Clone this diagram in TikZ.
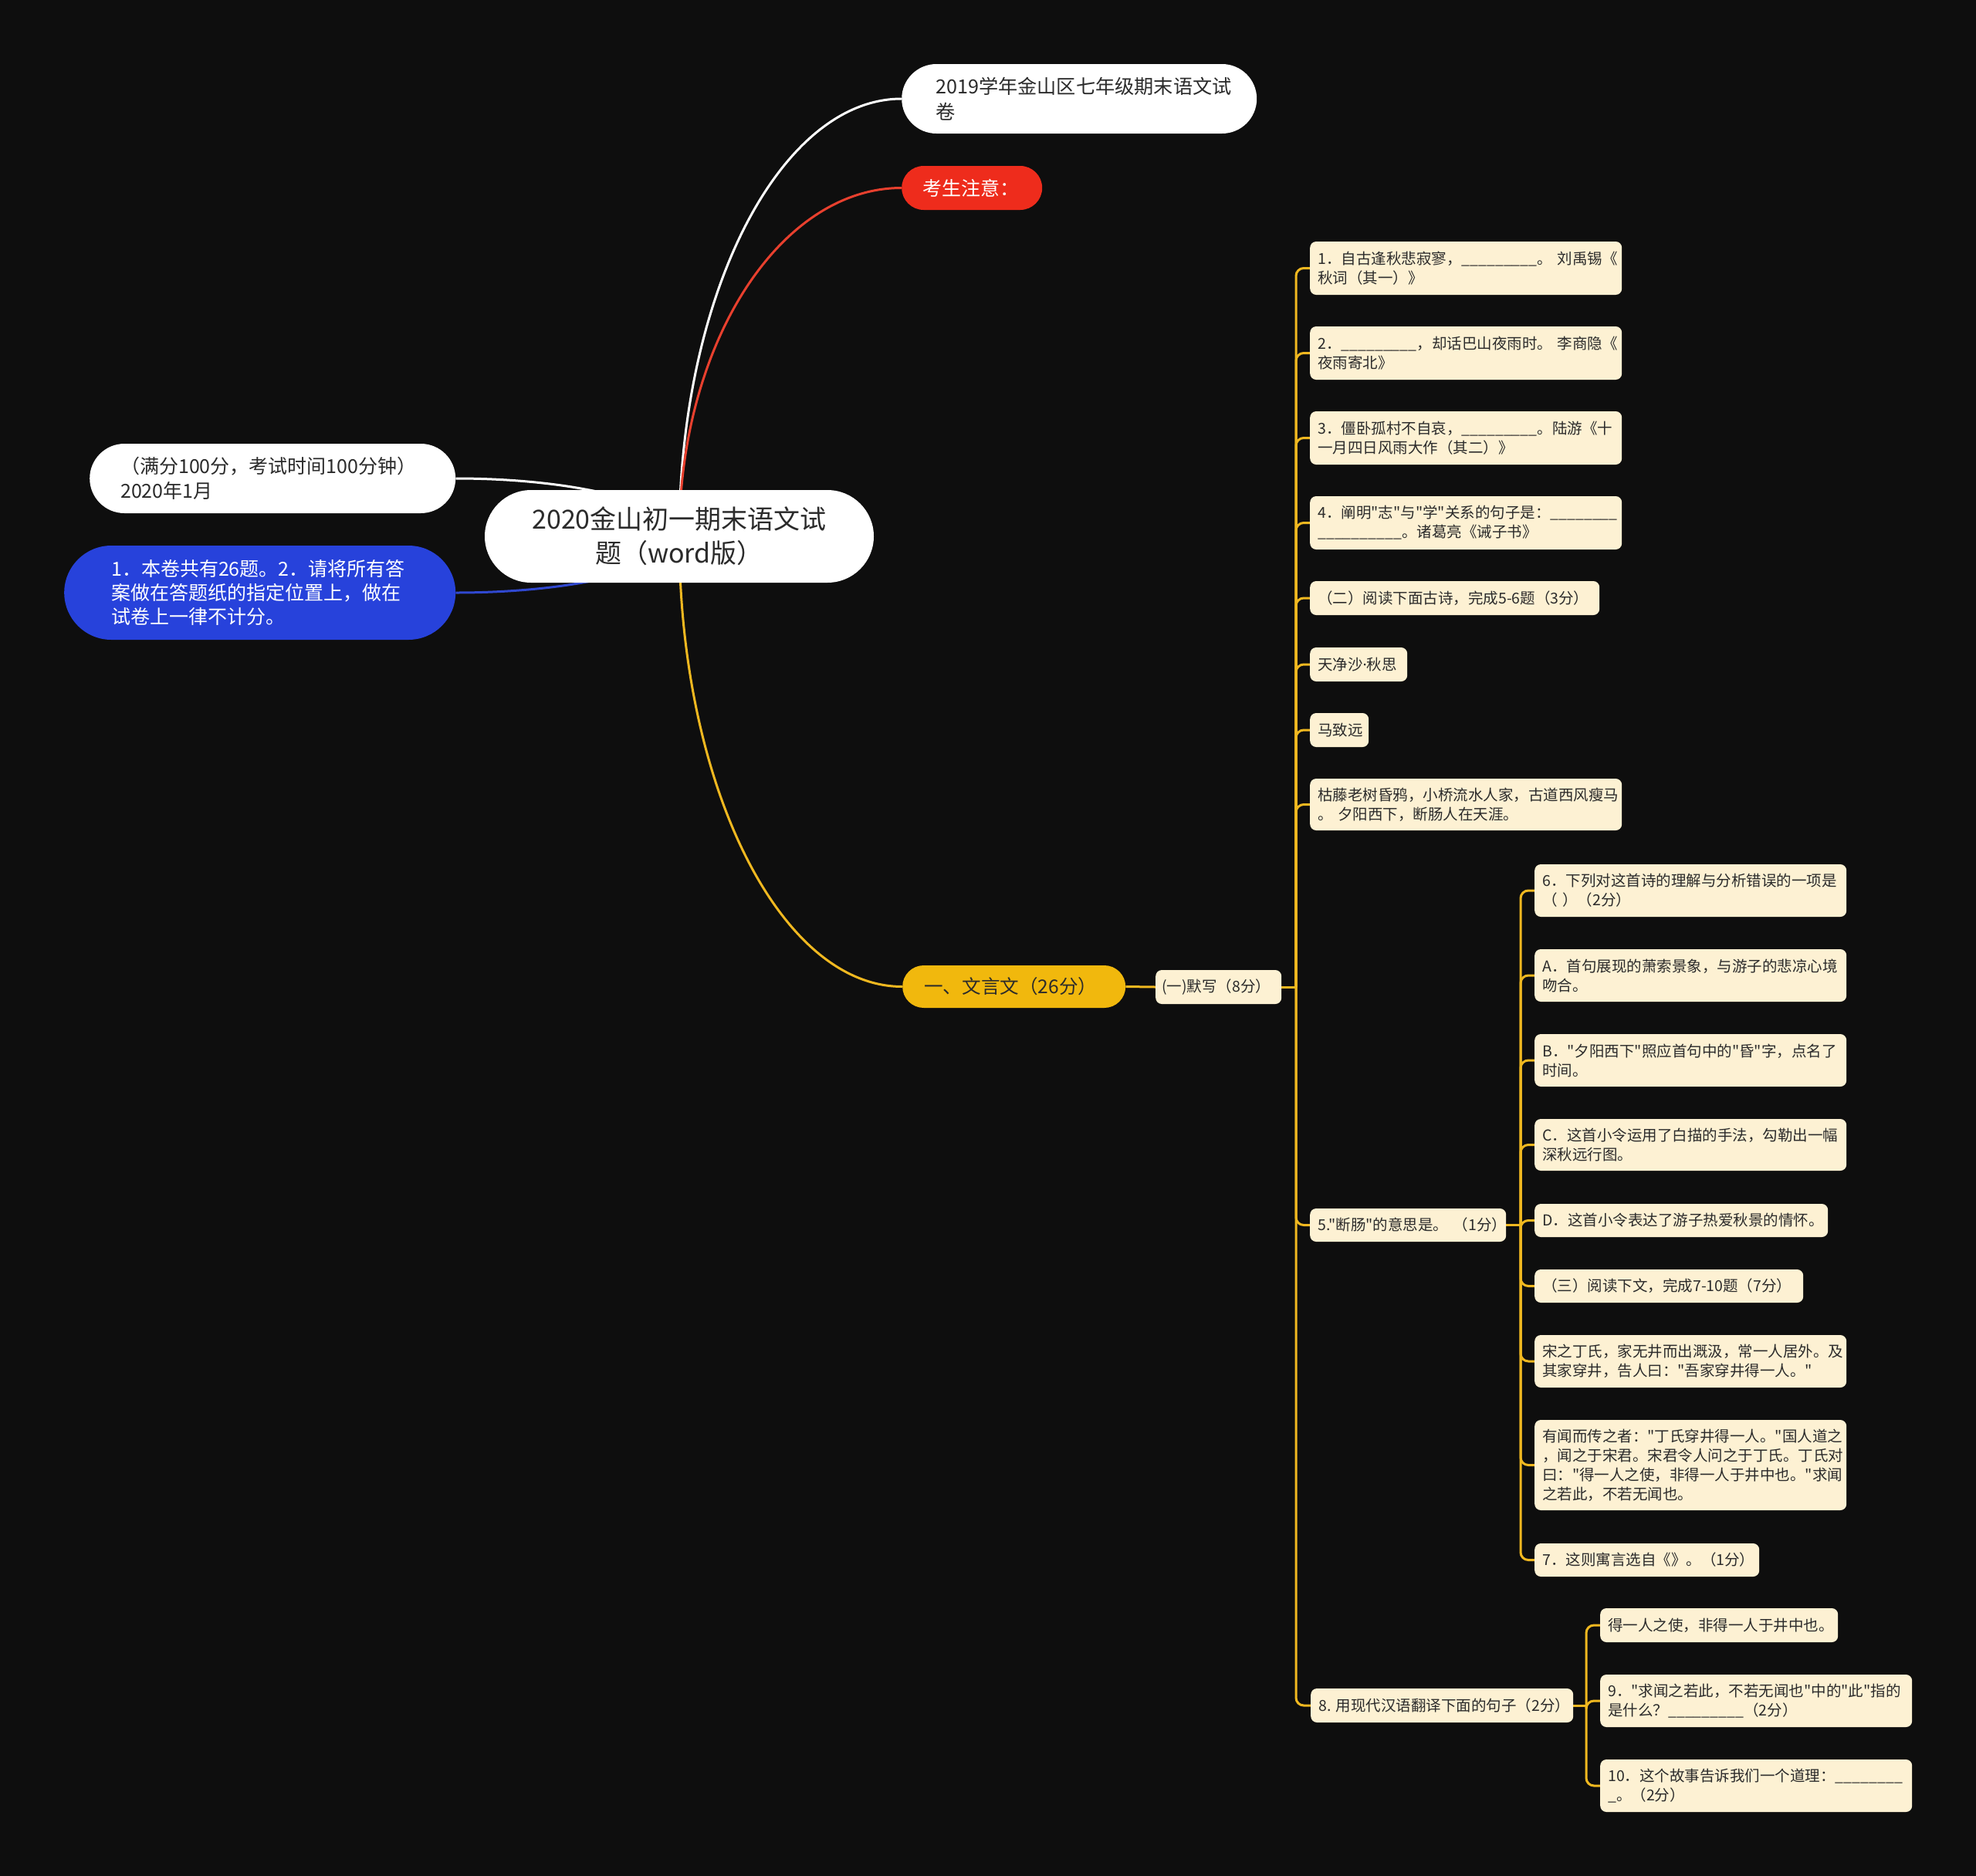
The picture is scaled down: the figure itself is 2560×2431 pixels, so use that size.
\documentclass[tikz,border=0pt]{standalone}
\usepackage{fontspec}
\setmainfont{Noto Sans CJK SC}[Ligatures=TeXOff]
\newfontfamily\latinf{Noto Sans}
\definecolor{bgc}{HTML}{0E0E0E}
\definecolor{gold}{HTML}{F0B820}
\definecolor{goldfill}{HTML}{F1B80D}
\definecolor{cream}{HTML}{FDF1D3}
\definecolor{txtdark}{HTML}{2B2B2B}
\definecolor{redn}{HTML}{EE2C1C}
\definecolor{redl}{HTML}{E8402E}
\definecolor{bluen}{HTML}{2742DB}
\definecolor{bluel}{HTML}{3048D0}
\pgfdeclarelayer{bglayer}
\pgfdeclarelayer{linelayer}
\pgfsetlayers{bglayer,linelayer,main}
\hyphenpenalty=10000
\exhyphenpenalty=10000
\begin{document}
\begin{tikzpicture}[x=1pt,y=-1pt,
  every node/.style={inner ysep=0pt},
  leaf/.style={fill=cream, text=txtdark, rounded corners=8pt, anchor=west, align=left,
    inner xsep=10pt, font=\fontsize{19.5}{25}\selectfont},
  pill/.style={anchor=west, align=left, font=\fontsize{25}{32}\selectfont},
  gline/.style={draw=gold, line width=3pt},
  gbranch/.style={draw=gold, line width=3pt, rounded corners=10pt},
  wline/.style={draw=white, line width=3pt},
  rline/.style={draw=redl, line width=3pt},
  bline/.style={draw=bluel, line width=3pt}
]
\begin{pgfonlayer}{bglayer}
\fill[bgc] (0,0) rectangle (2560,2431);
\end{pgfonlayer}
\useasboundingbox (0,0) rectangle (2560,2431);

% root
\node[fill=white, text=txtdark, rounded corners=60pt, minimum width=504pt, minimum height=120pt,
  text width=440pt, align=center, font=\fontsize{34}{44}\selectfont] (root) at (880,695)
  {2020金山初一期末语文试\\题（word版）};

% top / left nodes
\node[pill, fill=white, text=txtdark, rounded corners=45pt, minimum width=460pt, minimum height=90pt,
  text width=372pt, inner xsep=44pt, font=\fontsize{25.2}{33}\selectfont] (top1) at (1168,128)
  {2019学年金山区七年级期末语文试\\卷};
\node[pill, fill=redn, text=white, rounded corners=28.5pt, minimum width=182pt, minimum height=57pt,
  text width=128pt, inner xsep=27pt] (red1) at (1168,243.5) {考生注意：};
\node[pill, fill=white, text=txtdark, rounded corners=45pt, minimum width=474pt, minimum height=90pt,
  text width=394pt, inner xsep=40pt] (left1) at (116,620)
  {（满分100分，考试时间100分钟）\\2020年1月};
\node[pill, fill=bluen, text=white, rounded corners=61pt, minimum width=507pt, minimum height=122pt,
  text width=385pt, inner xsep=61pt, font=\fontsize{25}{31}\selectfont] (blue1) at (83,768)
  {1．本卷共有26题。2．请将所有答\\案做在答题纸的指定位置上，做在\\试卷上一律不计分。};

% level 1
\node[pill, fill=goldfill, text=txtdark, rounded corners=27.5pt, minimum width=289pt, minimum height=55pt,
  text width=233pt, inner xsep=28pt, font=\fontsize{24.6}{30}\selectfont] (wy) at (1169,1278.5)
  {一、文言文（26分）};
\node[leaf, minimum width=163pt, minimum height=44pt, text width=147pt, inner xsep=8pt] (mx) at (1497,1279)
  {(一)默写（8分）};

% level 2
\node[leaf, minimum height=69pt, text width=384pt] (a1) at (1697,347.5)
  {1．自古逢秋悲寂寥，\_\_\_\_\_\_\_\_\_。~刘禹锡《\\秋词（其一）》};
\node[leaf, minimum height=69pt, text width=384pt] (a2) at (1697,457.5)
  {2．\_\_\_\_\_\_\_\_\_，却话巴山夜雨时。~李商隐《\\夜雨寄北》};
\node[leaf, minimum height=69pt, text width=384pt] (a3) at (1697,567.5)
  {3．僵卧孤村不自哀，\_\_\_\_\_\_\_\_\_。陆游《十\\一月四日风雨大作（其二）》};
\node[leaf, minimum height=69pt, text width=384pt] (a4) at (1697,677.5)
  {4．阐明"志"与"学"关系的句子是：\_\_\_\_\_\_\_\_\\\_\_\_\_\_\_\_\_\_\_。诸葛亮《诫子书》};
\node[leaf, minimum height=44pt, text width=355pt] (a5) at (1697,775)
  {（二）阅读下面古诗，完成5-6题（3分）};
\node[leaf, minimum height=44pt, text width=106pt] (a6) at (1697,861) {天净沙{\latinf ·}秋思};
\node[leaf, minimum height=44pt, text width=56pt] (a7) at (1697,946) {马致远};
\node[leaf, minimum height=67pt, text width=384pt] (a8) at (1697,1042.5)
  {枯藤老树昏鸦，小桥流水人家，古道西风瘦马\\。~夕阳西下，断肠人在天涯。};
\node[leaf, minimum height=43pt, text width=234pt] (q5) at (1697,1587.5)
  {5."断肠"的意思是。~（1分）};
\node[leaf, minimum height=44pt, text width=320pt] (q8) at (1698,2210)
  {8.~用现代汉语翻译下面的句子（2分）};

% level 3 (under 5)
\node[leaf, minimum height=68pt, text width=384pt] (b1) at (1988,1154)
  {6．下列对这首诗的理解与分析错误的一项是\\（~）（2分）};
\node[leaf, minimum height=68pt, text width=384pt] (b2) at (1988,1264)
  {A．首句展现的萧索景象，与游子的悲凉心境\\吻合。};
\node[leaf, minimum height=68pt, text width=384pt] (b3) at (1988,1374)
  {B．"夕阳西下"照应首句中的"昏"字，点名了\\时间。};
\node[leaf, minimum height=67pt, text width=384pt] (b4) at (1988,1483.5)
  {C．这首小令运用了白描的手法，勾勒出一幅\\深秋远行图。};
\node[leaf, minimum height=43pt, text width=360pt] (b5) at (1988,1581.5)
  {D．这首小令表达了游子热爱秋景的情怀。};
\node[leaf, minimum height=43pt, text width=328pt] (b6) at (1988,1666.5)
  {（三）阅读下文，完成7-10题（7分）};
\node[leaf, minimum height=68pt, text width=384pt] (b7) at (1988,1764)
  {宋之丁氏，家无井而出溉汲，常一人居外。及\\其家穿井，告人曰："吾家穿井得一人。"};
\node[leaf, minimum height=117pt, text width=384pt] (b8) at (1988,1898.5)
  {有闻而传之者："丁氏穿井得一人。"国人道之\\，闻之于宋君。宋君令人问之于丁氏。丁氏对\\曰："得一人之使，非得一人于井中也。"求闻\\之若此，不若无闻也。};
\node[leaf, minimum height=43pt, text width=271pt] (b9) at (1988,2021.5)
  {7．这则寓言选自《》。（1分）};

% level 3 (under 8)
\node[leaf, minimum height=44pt, text width=288pt] (c1) at (2073,2106)
  {得一人之使，非得一人于井中也。};
\node[leaf, minimum height=68pt, text width=384pt] (c2) at (2073,2204)
  {9．"求闻之若此，不若无闻也"中的"此"指的\\是什么？\_\_\_\_\_\_\_\_\_（2分）};
\node[leaf, minimum height=68pt, text width=384pt] (c3) at (2073,2314)
  {10．这个故事告诉我们一个道理：\_\_\_\_\_\_\_\_\\\_。（2分）};

\coordinate (t1) at (1679,1279);
\coordinate (t2) at (1970,1587.5);
\coordinate (t3) at (2055,2210);

\begin{pgfonlayer}{linelayer}
\draw[wline] (root.center) .. controls (880,383) and (1010,128) .. (top1.west);
\draw[rline] (root.center) .. controls (880,446) and (1010,243.5) .. (red1.west);
\draw[draw=gold, line width=3pt] (root.center) .. controls (880,1016) and (1010,1278.5) .. (wy.west);
\draw[wline] (root.center) .. controls (880,654) and (750,620) .. (left1.east);
\draw[bline] (root.center) .. controls (880,735) and (750,768) .. (blue1.east);

\draw[gline] (wy.east) -- (mx.west);
\draw[gline] (mx.east) -- (t1);
\foreach \c in {a1,a2,a3,a4,a5,a6,a7,a8,q5,q8} \draw[gbranch] (t1) |- (\c.west);
\draw[gline] (q5.east) -- (t2);
\foreach \c in {b1,b2,b3,b4,b5,b6,b7,b8,b9} \draw[gbranch] (t2) |- (\c.west);
\draw[gline] (q8.east) -- (t3);
\foreach \c in {c1,c2,c3} \draw[gbranch] (t3) |- (\c.west);
\end{pgfonlayer}
\end{tikzpicture}
\end{document}
